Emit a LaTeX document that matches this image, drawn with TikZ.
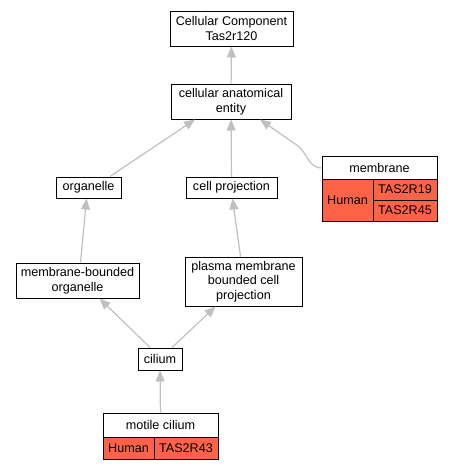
\documentclass[tikz,border=0pt]{standalone}
\usepackage{fontspec}
\setmainfont{Liberation Sans}
\usetikzlibrary{arrows.meta}
\definecolor{edgegray}{HTML}{C0C0C0}
\definecolor{tomatored}{HTML}{FF6347}
\begin{document}
\begin{tikzpicture}[x=1pt,y=-1pt,
  box/.style={draw=black,line width=1pt,fill=white,inner sep=0pt,align=center,font=\fontsize{12.6}{14.5}\selectfont},
  cell/.style={box,fill=tomatored},
  edge/.style={draw=edgegray,line width=1.2pt,-{Triangle[length=11pt,width=9pt]}}]
\useasboundingbox (0,0) rectangle (453,469);
% plain nodes
\node[box,minimum width=123pt,minimum height=35pt] (cc) at (231.5,28.5) {Cellular Component\\Tas2r120};
\node[box,minimum width=120pt,minimum height=35pt] (cae) at (231,101.5) {cellular anatomical\\entity};
\node[box,minimum width=65pt,minimum height=21pt] (org) at (88.5,187.5) {organelle};
\node[box,minimum width=91pt,minimum height=21pt] (cp) at (231.5,187.5) {cell projection};
\node[box,minimum width=123pt,minimum height=35pt] (mbo) at (77.5,280.5) {membrane-bounded\\organelle};
\node[box,minimum width=117pt,minimum height=49pt] (pm) at (243.5,281.5) {plasma membrane\\bounded cell\\projection};
\node[box,minimum width=44pt,minimum height=22pt] (cil) at (160,359) {cilium};
% membrane table
\node[box,minimum width=115pt,minimum height=23pt] (mem) at (379.5,167.5) {membrane};
\node[cell,minimum width=51pt,minimum height=42pt] (memh) at (347.5,200) {Human};
\node[cell,minimum width=64pt,minimum height=21pt] (mem19) at (405,189.5) {TAS2R19};
\node[cell,minimum width=64pt,minimum height=21pt] (mem45) at (405,210.5) {TAS2R45};
% motile cilium table
\node[box,minimum width=115pt,minimum height=24pt] (mc) at (160.5,425) {motile cilium};
\node[cell,minimum width=51pt,minimum height=22pt] (mch) at (128.5,448) {Human};
\node[cell,minimum width=64pt,minimum height=22pt] (mc43) at (186,448) {TAS2R43};
% edges
\draw[edge] (cae) -- (cc);
\draw[edge] ([xshift=21.5pt]org.north) -- ([xshift=-36pt]cae.south);
\draw[edge] (cp) -- (cae);
\draw[edge] ([yshift=-0.5pt]mem.west) to[out=180,in=-40] (298,146) -- ([xshift=29pt]cae.south);
\draw[edge] ([xshift=3pt]mbo.north) -- ([xshift=-2pt]org.south);
\draw[edge] ([xshift=-3pt]pm.north) -- ([xshift=1pt]cp.south);
\draw[edge] ([xshift=-10pt]cil.north) -- ([xshift=22pt]mbo.south);
\draw[edge] ([xshift=12pt]cil.north) -- ([xshift=-28pt]pm.south);
\draw[edge] (mc) -- (cil);
\end{tikzpicture}
\end{document}
